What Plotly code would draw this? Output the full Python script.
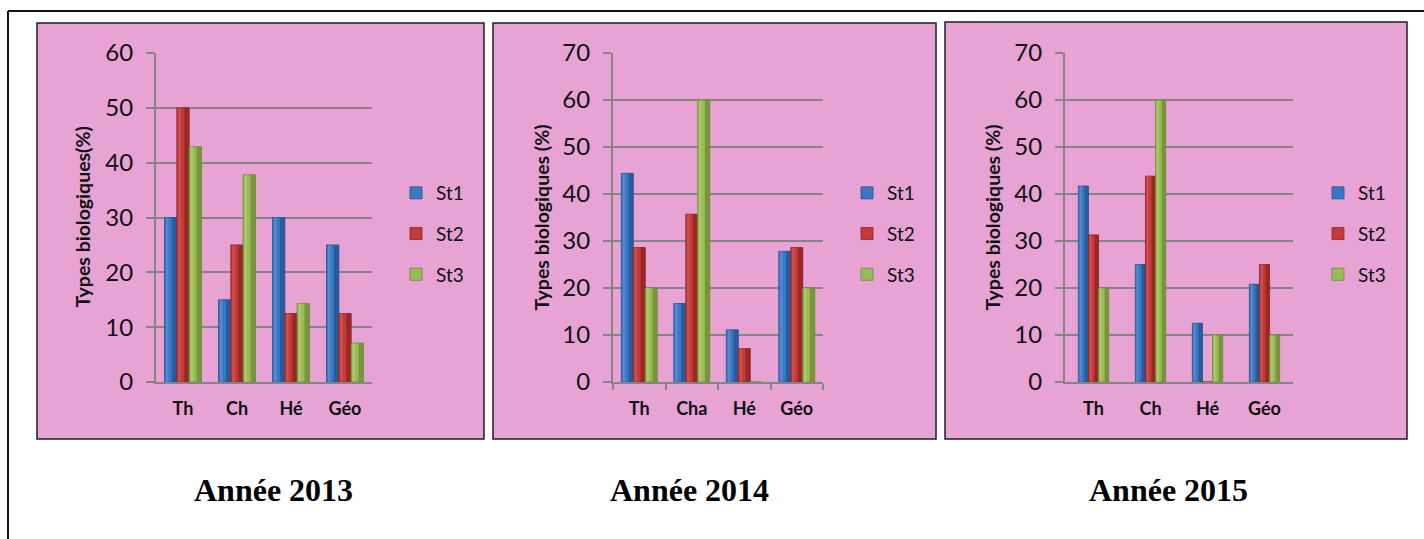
import plotly.graph_objects as go

W, H = 1424, 539

# ---- data -------------------------------------------------------------
cats_2013 = ["Th", "Ch", "Hé", "Géo"]
cats_2014 = ["Th", "Cha", "Hé", "Géo"]
cats_2015 = ["Th", "Ch", "Hé", "Géo"]

st1_2013 = [30, 15, 30, 25]
st2_2013 = [50, 25, 12.5, 12.5]
st3_2013 = [42.9, 37.8, 14.3, 7.1]

st1_2014 = [44.4, 16.7, 11.1, 27.8]
st2_2014 = [28.6, 35.7, 7.1, 28.6]
st3_2014 = [20, 60, 0, 20]

st1_2015 = [41.7, 25, 12.5, 20.8]
st2_2015 = [31.3, 43.8, 0, 25]
st3_2015 = [20, 60, 10, 10]

series_names = ["St1", "St2", "St3"]
year_titles = ["Année 2013", "Année 2014", "Année 2015"]
y_titles = ["Types biologiques(%)", "Types biologiques (%)", "Types biologiques (%)"]
y_max = [60, 70, 70]

panels_data = [
    (cats_2013, [st1_2013, st2_2013, st3_2013]),
    (cats_2014, [st1_2014, st2_2014, st3_2014]),
    (cats_2015, [st1_2015, st2_2015, st3_2015]),
]

# ---- styling ----------------------------------------------------------
main_col = ["#3b78c3", "#c23b3a", "#9bbb59"]
dark_col = ["#24528f", "#8c2322", "#6c8a30"]
light_col = ["#6fa2e0", "#e06a68", "#bcd67f"]

PINK = "#e6a3d4"
GRID = "#858585"
FONT = "Lato"

# pixel geometry of each panel
panel_box = [(37, 23, 484, 439), (493, 23, 936, 439), (945, 22, 1407, 439)]
plot_box = [(156, 53, 372, 382), (613, 53, 823, 382), (1065, 53, 1293, 382)]
bar_w = [0.228, 0.228, 0.177]
legend_left = [396, 847, 1318]
ytitle_x = [82, 541, 992]
year_x = [273, 689, 1168]
year_y = 490


def fx(px):
    return px / W


def fy(py):
    return 1 - py / H


fig = go.Figure()

for p, (cats, series) in enumerate(panels_data):
    sfx = "" if p == 0 else str(p + 1)
    xa, ya = "x" + sfx, "y" + sfx
    leg = "legend" + sfx
    w = bar_w[p]
    start = -1.5 * w
    for s, vals in enumerate(series):
        off = start + s * w
        # body of the bar
        fig.add_trace(go.Bar(
            x=cats, y=vals, xaxis=xa, yaxis=ya, name=series_names[s],
            offset=off, width=w, legend=leg, legendgroup=f"{p}-{s}",
            marker=dict(color=main_col[s], line=dict(color=dark_col[s], width=0.8)),
            hoverinfo="x+y+name",
        ))
        # darker right side for the rounded look
        fig.add_trace(go.Bar(
            x=cats, y=vals, xaxis=xa, yaxis=ya, showlegend=False,
            offset=off + 0.6 * w, width=0.4 * w,
            marker=dict(color=dark_col[s], line=dict(width=0), opacity=0.75),
            hoverinfo="skip",
        ))
        # light highlight near the left edge
        fig.add_trace(go.Bar(
            x=cats, y=vals, xaxis=xa, yaxis=ya, showlegend=False,
            offset=off + 0.12 * w, width=0.2 * w,
            marker=dict(color=light_col[s], line=dict(width=0), opacity=0.45),
            hoverinfo="skip",
        ))

layout = dict(
    width=W, height=H,
    margin=dict(l=0, r=0, t=0, b=0, pad=0, autoexpand=False),
    paper_bgcolor="white",
    plot_bgcolor="white",
    barmode="overlay",
    font=dict(family=FONT, color="#1a1a1a"),
    showlegend=True,
)

shapes = []
annotations = []

# outer frame (top and left edges)
shapes.append(dict(type="line", xref="paper", yref="paper",
                   x0=fx(8), x1=1.0, y0=fy(11), y1=fy(11),
                   line=dict(color="#111111", width=2), layer="below"))
shapes.append(dict(type="line", xref="paper", yref="paper",
                   x0=fx(8), x1=fx(8), y0=fy(11), y1=0,
                   line=dict(color="#111111", width=2), layer="below"))

for p in range(3):
    sfx = "" if p == 0 else str(p + 1)
    cats = panels_data[p][0]
    x0, y0, x1, y1 = panel_box[p]
    shapes.append(dict(type="rect", xref="paper", yref="paper",
                       x0=fx(x0), x1=fx(x1), y0=fy(y1), y1=fy(y0),
                       fillcolor=PINK, line=dict(color="#1e1e1e", width=1.5),
                       layer="below"))
    px0, py0, px1, py1 = plot_box[p]
    layout["xaxis" + sfx] = dict(
        domain=[fx(px0), fx(px1)], anchor="y" + sfx, automargin=False,
        type="category", categoryorder="array", categoryarray=cats,
        range=[-0.5, 3.5],
        showline=True, linecolor=GRID, linewidth=2,
        showgrid=False, zeroline=False,
        ticks="outside" if p == 1 else "", tickson="boundaries",
        ticklen=6, tickwidth=2, tickcolor=GRID,
        tickfont=dict(family=FONT, size=18, color="#111111", weight="bold"),
        ticklabelstandoff=9,
    )
    layout["yaxis" + sfx] = dict(
        domain=[fy(py1), fy(py0)], anchor="x" + sfx, automargin=False,
        range=[0, y_max[p]], dtick=10,
        showline=True, linecolor=GRID, linewidth=2,
        showgrid=True, gridcolor=GRID, gridwidth=2,
        zeroline=False,
        ticks="outside", ticklen=8, tickwidth=2, tickcolor=GRID,
        tickfont=dict(family=FONT, size=24, color="#111111"),
        ticklabelstandoff=8,
    )
    layout["legend" + sfx] = dict(
        x=fx(legend_left[p]), y=fy(174), xanchor="left", yanchor="top",
        bgcolor="rgba(0,0,0,0)", borderwidth=0,
        font=dict(family=FONT, size=19, color="#111111"),
        tracegroupgap=13, itemclick=False, itemdoubleclick=False,
    )
    annotations.append(dict(
        text=y_titles[p], xref="paper", yref="paper",
        x=fx(ytitle_x[p]), y=fy((py0 + py1) / 2), textangle=-90,
        showarrow=False, xanchor="center", yanchor="middle",
        font=dict(family=FONT, size=19.5, color="#111111", weight="bold"),
    ))
    annotations.append(dict(
        text=year_titles[p], xref="paper", yref="paper",
        x=fx(year_x[p]), y=fy(year_y), showarrow=False,
        xanchor="center", yanchor="middle",
        font=dict(family="Liberation Serif", size=32, color="#000000", weight="bold"),
    ))

layout["shapes"] = shapes
layout["annotations"] = annotations
fig.update_layout(**layout)

fig.write_html("out.html")
